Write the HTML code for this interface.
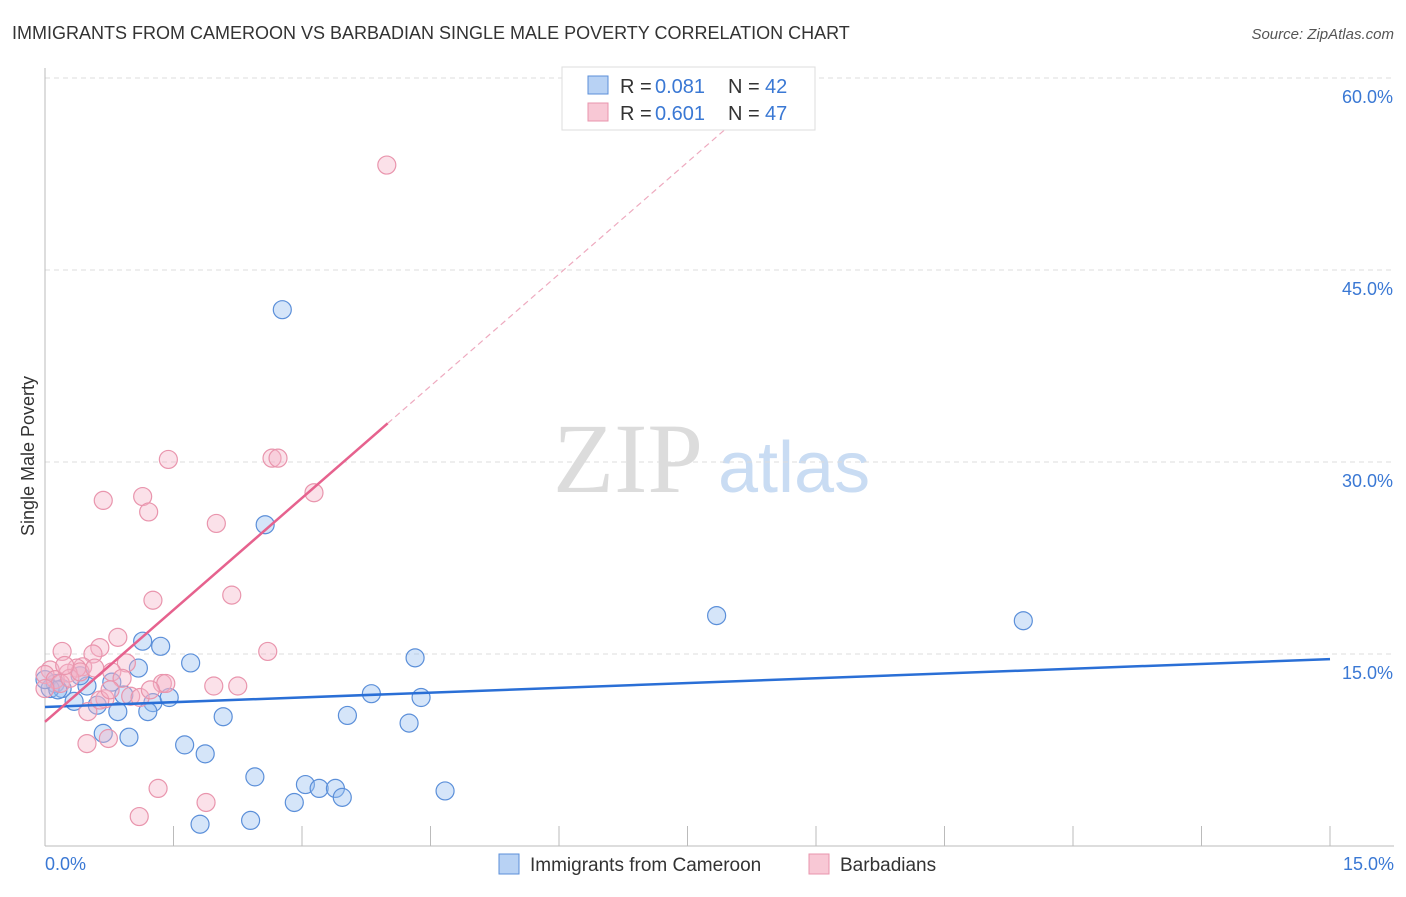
<!DOCTYPE html>
<html><head><meta charset="utf-8"><style>
body{margin:0;background:#fff;font-family:"Liberation Sans",sans-serif}
</style></head><body>
<svg id="chart" width="1406" height="892" xmlns="http://www.w3.org/2000/svg" style="font-family:'Liberation Sans',sans-serif">
<text x="12" y="39" font-size="18" fill="#333">IMMIGRANTS FROM CAMEROON VS BARBADIAN SINGLE MALE POVERTY CORRELATION CHART</text>
<text x="1394" y="39" font-size="15" fill="#555" text-anchor="end" font-style="italic">Source: ZipAtlas.com</text>
<g>
<text x="553" y="492" font-size="100" fill="#dcdcdc" font-family="Liberation Serif,serif">ZIP</text>
<text x="718" y="492" font-size="72" fill="#c9dcf3">atlas</text>
</g>
<g id="grid"></g>
<g id="axes"></g>
<g id="marks"></g>
<g>
<rect x="562" y="67" width="253" height="63" fill="#fff" stroke="#ddd"/>
<rect x="588" y="76" width="20" height="18" fill="#b8d2f4" stroke="#5b8fd9"/>
<rect x="588" y="103" width="20" height="18" fill="#f8c8d5" stroke="#e995ad"/>
<text x="620" y="93" font-size="20" fill="#333">R =</text>
<text x="655" y="93" font-size="20" fill="#3a78d4">0.081</text>
<text x="728" y="93" font-size="20" fill="#333">N =</text>
<text x="765" y="93" font-size="20" fill="#3a78d4">42</text>
<text x="620" y="120" font-size="20" fill="#333">R =</text>
<text x="655" y="120" font-size="20" fill="#3a78d4">0.601</text>
<text x="728" y="120" font-size="20" fill="#333">N =</text>
<text x="765" y="120" font-size="20" fill="#3a78d4">47</text>
</g>
<g>
<rect x="499" y="854" width="20" height="20" fill="#b8d2f4" stroke="#5b8fd9"/>
<text x="530" y="871" font-size="19" fill="#333">Immigrants from Cameroon</text>
<rect x="809" y="854" width="20" height="20" fill="#f8c8d5" stroke="#e995ad"/>
<text x="840" y="871" font-size="19" fill="#333">Barbadians</text>
</g>
<text transform="translate(34,456) rotate(-90)" font-size="18" fill="#333" text-anchor="middle">Single Male Poverty</text>
</svg>
<script>
const blueX=[2.77,2.57,7.84,11.42,1.14,1.35,1.70,4.32,1.09,0.78,0.49,0.12,0.20,0.06,0.41,0.92,1.26,1.45,0.85,1.20,0.61,3.81,4.39,3.53,2.08,4.25,0.68,0.98,1.63,1.87,2.45,3.04,3.20,3.39,3.47,4.67,2.91,1.81,2.40,0.34,0.15,0.0];
const blueY=[41.9,25.1,18.0,17.6,16.0,15.6,14.3,14.7,13.9,12.8,12.5,12.7,12.3,12.3,13.3,11.8,11.2,11.6,10.5,10.5,11.0,11.9,11.6,10.2,10.1,9.6,8.8,8.5,7.9,7.2,5.4,4.8,4.5,4.5,3.8,4.3,3.4,1.7,2.0,11.3,12.2,13.0];
const pinkX=[3.99,1.44,2.65,2.72,3.14,0.68,1.14,1.21,2.00,2.18,1.26,0.85,0.20,0.64,0.56,2.60,0.95,0.78,0.44,0.37,0.27,0.90,1.37,1.41,1.97,2.25,1.00,1.11,0.70,0.50,0.49,0.74,1.32,1.88,1.10,0.06,0.0,0.12,0.18,0.29,0.0,0.41,0.58,0.64,0.76,1.23,0.23];
const pinkY=[53.2,30.2,30.3,30.3,27.6,27.0,27.3,26.1,25.2,19.6,19.2,16.3,15.2,15.5,15.0,15.2,14.3,13.6,14.0,13.9,13.5,13.1,12.7,12.7,12.5,12.5,11.7,11.6,11.5,10.5,8.0,8.4,4.5,3.4,2.3,13.75,13.4,13.0,12.7,13.1,12.3,13.6,13.9,11.4,12.2,12.2,14.1];
const blueTrend=[10.86,14.6];   // y at x=0 and x=15
const pinkTrend=[9.7,5.83];     // intercept, slope
const xTicks=[0,1.5,3,4.5,6,7.5,9,10.5,12,13.5,15];
const yTicks=[15,30,45,60];
const yTickLabels=["15.0%","30.0%","45.0%","60.0%"];
const xLabels=["0.0%","15.0%"];

const L=45,R=1330,T0=846;
const sx=v=>L+(v/15)*(R-L);
const sy=v=>T0-(v/15)*192;
const NS="http://www.w3.org/2000/svg";
function mk(parent,tag,attrs){const e=document.createElementNS(NS,tag);for(const k in attrs)e.setAttribute(k,attrs[k]);document.getElementById(parent).appendChild(e);return e;}

yTicks.forEach((t,i)=>{
  const g=mk('grid','line',{x1:L,x2:1394,y1:sy(t),y2:sy(t),stroke:'#ddd','stroke-dasharray':'5,4'});
  
  
  const tx=mk('axes','text',{x:1393,y:sy(t)+25,'font-size':18,fill:'#3a78d4','text-anchor':'end'});
  tx.textContent=yTickLabels[i];
  
  
});
const ya=mk('axes','line',{x1:L,x2:L,y1:68,y2:T0,stroke:'#bbb'});


const xa=mk('axes','line',{x1:L,x2:1394,y1:T0,y2:T0,stroke:'#bbb'});


xTicks.forEach(t=>{
  const k=mk('axes','line',{x1:sx(t),x2:sx(t),y1:T0,y2:T0-20,stroke:'#bbb'});
  
  
});
const xl0=mk('axes','text',{x:45,y:870,'font-size':18,fill:'#3a78d4'});xl0.textContent=xLabels[0];


const xl1=mk('axes','text',{x:1394,y:870,'font-size':18,fill:'#3a78d4','text-anchor':'end'});xl1.textContent=xLabels[1];



blueX.forEach((x,i)=>{
  const c=mk('marks','circle',{cx:sx(x),cy:sy(blueY[i]),r:9,fill:'rgba(150,190,240,0.4)',stroke:'#5b8fd9','stroke-width':1.2});
  
  
});
pinkX.forEach((x,i)=>{
  const c=mk('marks','circle',{cx:sx(x),cy:sy(pinkY[i]),r:9,fill:'rgba(245,180,200,0.4)',stroke:'#e995ad','stroke-width':1.2});
  
  
});
const bl=mk('marks','line',{x1:sx(0),y1:sy(blueTrend[0]),x2:sx(15),y2:sy(blueTrend[1]),stroke:'#2a6fd6','stroke-width':2.5});


const pl=mk('marks','line',{x1:sx(0),y1:sy(pinkTrend[0]),x2:sx(4.0),y2:sy(pinkTrend[0]+pinkTrend[1]*4.0),stroke:'#e6628e','stroke-width':2.5});


const pd=mk('marks','line',{x1:sx(4.0),y1:sy(pinkTrend[0]+pinkTrend[1]*4.0),x2:sx(8.0),y2:sy(pinkTrend[0]+pinkTrend[1]*8.0),stroke:'#eeaabf','stroke-width':1.2,'stroke-dasharray':'6,4'});


</script>
</body></html>
